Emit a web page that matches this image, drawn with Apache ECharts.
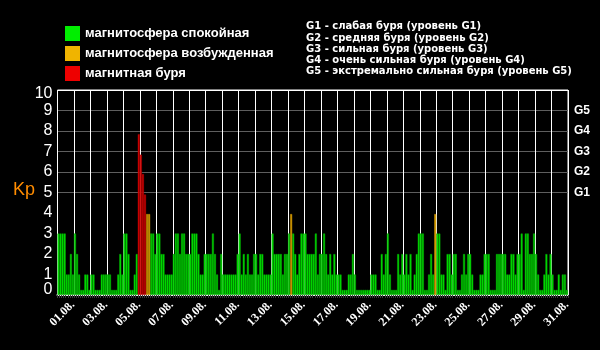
<!DOCTYPE html>
<html>
<head>
<meta charset="utf-8">
<script src="https://cdn.jsdelivr.net/npm/echarts@6/dist/echarts.min.js"></script>
<style>
  html, body { margin: 0; padding: 0; background: #000; }
  #chart { width: 600px; height: 350px; }
</style>
</head>
<body>
<div id="chart"></div>
<script>
// Day labels of the month (one per day, 8 three-hour slots each)
const dayLabels = [
  '01.08.', '02.08.', '03.08.', '04.08.', '05.08.', '06.08.', '07.08.', '08.08.',
  '09.08.', '10.08.', '11.08.', '12.08.', '13.08.', '14.08.', '15.08.', '16.08.',
  '17.08.', '18.08.', '19.08.', '20.08.', '21.08.', '22.08.', '23.08.', '24.08.',
  '25.08.', '26.08.', '27.08.', '28.08.', '29.08.', '30.08.', '31.08.'
];
const slotHours = ['00', '03', '06', '09', '12', '15', '18', '21'];

// Three-hour Kp index, 8 values per day
const kp = [
  3, 3, 3, 3, 1, 1, 2, 1,            // 01.08.
  3, 2, 1, 0.25, 0.25, 1, 1, 0.25,   // 02.08.
  1, 1, 0.25, 0.25, 0.25, 1, 1, 1,   // 03.08.
  1, 1, 0.25, 0.25, 0.25, 1, 2, 1,   // 04.08.
  3, 3, 2, 0.25, 0.25, 1, 2, 7.85,   // 05.08.
  6.85, 5.9, 4.9, 3.95, 3.95, 3, 3, 2, // 06.08.
  3, 3, 2, 2, 1, 1, 1, 1,            // 07.08.
  2, 3, 3, 2, 3, 3, 2, 2,            // 08.08.
  2, 3, 3, 3, 2, 1, 1, 2,            // 09.08.
  2, 2, 2, 3, 2, 1, 0.25, 2,         // 10.08.
  1, 1, 1, 1, 1, 1, 1, 2,            // 11.08.
  3, 1, 2, 1, 2, 1, 1, 2,            // 12.08.
  2, 1, 2, 2, 1, 1, 1, 1,            // 13.08.
  3, 2, 2, 2, 2, 1, 2, 2,            // 14.08.
  3, 3.95, 3, 2, 1, 2, 3, 3,         // 15.08.
  3, 2, 2, 2, 2, 3, 1, 2,            // 16.08.
  2, 3, 2, 1, 2, 1, 2, 1,            // 17.08.
  1, 1, 0.25, 0.25, 0.25, 1, 1, 2,   // 18.08.
  1, 0.25, 0.25, 0.25, 0.25, 0.25, 0.25, 0.25, // 19.08.
  1, 1, 1, 0.25, 0.25, 2, 1, 2,      // 20.08.
  3, 1, 0.25, 0.25, 0.25, 2, 1, 2,   // 21.08.
  1, 2, 1, 2, 0.25, 1, 2, 3,         // 22.08.
  3, 3, 0.25, 0.25, 1, 2, 1, 3.95,   // 23.08.
  3, 3, 1, 1, 0.25, 2, 2, 1,         // 24.08.
  2, 2, 0.25, 0.25, 1, 2, 1, 2,      // 25.08.
  2, 1, 0.25, 0.25, 0.25, 1, 1, 2,   // 26.08.
  2, 2, 0.25, 0.25, 0.25, 2, 2, 2,   // 27.08.
  2, 2, 1, 1, 2, 2, 1, 2,            // 28.08.
  2, 3, 0.25, 3, 3, 2, 2, 3,         // 29.08.
  2, 1, 0.25, 0.25, 1, 2, 1, 2,      // 30.08.
  1, 0.25, 0.25, 1, 0.25, 1, 1, 0.25 // 31.08.
];

const stateNames = ['магнитосфера спокойная', 'магнитосфера возбужденная', 'магнитная буря'];
const stateColors = ['#00ee00', '#f0b400', '#ee0000'];
const stateBorders = ['#009c00', '#b07a00', '#a00000'];

const stormScale = [
  'G1 - слабая буря (уровень G1)',
  'G2 - средняя буря (уровень G2)',
  'G3 - сильная буря (уровень G3)',
  'G4 - очень сильная буря (уровень G4)',
  'G5 - экстремально сильная буря (уровень G5)'
];
const gLabels = ['G1', 'G2', 'G3', 'G4', 'G5']; // at Kp 5 ... 9

// category per three-hour slot
const categories = [];
dayLabels.forEach(d => slotHours.forEach(h => categories.push(d + ' ' + h)));

// classify each value into quiet / active / storm series
function stateOf(v) { return v >= 4.5 ? 2 : (v >= 3.5 ? 1 : 0); }
const series = stateNames.map((name, s) => ({
  name: name,
  type: 'bar',
  data: kp.map(v => stateOf(v) === s ? v : '-'),
  barCategoryGap: '0%',
  barGap: '-100%',
  itemStyle: { color: stateColors[s], borderColor: stateBorders[s], borderWidth: 0.6 },
  silent: true,
  animation: false
}));

// split line colours per tick 0..10: only 5..9 are drawn grey, 10 is the top border
const splitColors = [];
for (let i = 0; i <= 10; i++) {
  splitColors.push(i >= 5 && i <= 9 ? '#5e5e5e' : (i === 10 ? '#ffffff' : 'rgba(0,0,0,0)'));
}

const tickFont = { color: '#ffffff', fontSize: 16, fontFamily: 'Liberation Sans' };
const kpAxisBase = {
  type: 'value',
  min: 0, max: 10, interval: 1,
  axisLine: { show: false },
  axisTick: { show: false }
};

const chart = echarts.init(document.getElementById('chart'), null, { renderer: 'canvas' });
chart.setOption({
  backgroundColor: '#000',
  animation: false,
  grid: {
    left: 57.5, right: 32, top: 90, bottom: 55,
    show: true, borderColor: '#ffffff', borderWidth: 1, backgroundColor: 'transparent'
  },
  legend: {
    orient: 'vertical',
    left: 60, top: 21,
    itemWidth: 15, itemHeight: 15, itemGap: 5,
    icon: 'rect',
    selectedMode: false,
    itemStyle: { borderWidth: 0 },
    textStyle: { color: '#ffffff', fontSize: 13, fontWeight: 'bold', fontFamily: 'Liberation Sans' },
    data: stateNames
  },
  xAxis: [{
    type: 'category',
    data: categories,
    boundaryGap: true,
    axisLine: { show: true, lineStyle: { color: '#ffffff', width: 2 } },
    axisTick: { show: false },
    axisLabel: {
      interval: (i) => i % 16 === 7,
      rotate: 45,
      margin: 8,
      color: '#ffffff',
      fontFamily: 'Liberation Serif',
      fontWeight: 'bold',
      fontSize: 12,
      formatter: (v) => v.slice(0, 6)
    },
    splitLine: { show: true, interval: (i) => i % 8 === 0, lineStyle: { color: '#ffffff', width: 1 } }
  }, {
    type: 'category',
    data: categories,
    position: 'top',
    boundaryGap: true,
    axisLine: { show: false },
    axisTick: { show: true, inside: true, length: 3, interval: 0, lineStyle: { color: '#3c3c3c' } },
    axisLabel: { show: false },
    splitLine: { show: false }
  }],
  yAxis: [
    // left Kp scale 1..10 with the grey grid lines
    Object.assign({}, kpAxisBase, {
      axisLabel: Object.assign({
        margin: 5,
        showMaxLabel: true,
        hideOverlap: false,
        formatter: (v) => v === 10 ? '{hi|10}' : (v === 0 ? '' : String(v)),
        rich: { hi: Object.assign({ padding: [8, 0, 0, 0] }, tickFont) }
      }, tickFont),
      splitLine: { show: true, showMinLine: true, showMaxLine: true, lineStyle: { color: splitColors, width: 1 } }
    }),
    // G storm levels on the right
    Object.assign({}, kpAxisBase, {
      position: 'right',
      splitLine: { show: false },
      axisLabel: {
        margin: 6,
        color: '#ffffff',
        fontSize: 12,
        fontWeight: 'bold',
        fontFamily: 'Liberation Sans',
        formatter: (v) => (v >= 5 && v <= 9) ? gLabels[v - 5] : ''
      }
    }),
    // zero label, sitting on the bottom line
    Object.assign({}, kpAxisBase, {
      position: 'left',
      splitLine: { show: false },
      axisLabel: Object.assign({
        margin: 5,
        showMinLabel: true,
        verticalAlignMinLabel: 'bottom',
        lineHeight: 11,
        formatter: (v) => v === 0 ? '0' : ''
      }, tickFont)
    })
  ],
  graphic: [{
    type: 'text',
    left: 13, top: 181,
    style: { text: 'Kp', fill: '#ff8c00', font: '18px "Liberation Sans"' }
  }, {
    type: 'text',
    left: 306, top: 21,
    style: {
      text: stormScale.join('\n'),
      fill: '#ffffff',
      font: 'bold 10px "DejaVu Sans"',
      lineHeight: 11.3
    }
  }],
  series: series
});
</script>
</body>
</html>
